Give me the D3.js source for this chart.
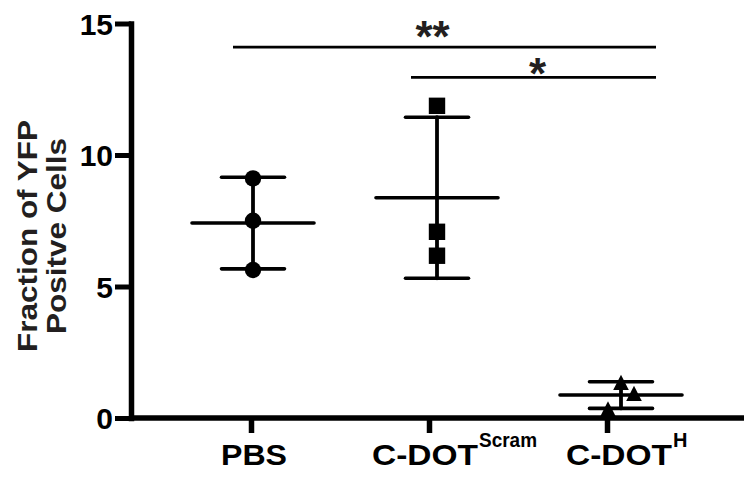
<!DOCTYPE html>
<html><head><meta charset="utf-8">
<script src="https://cdn.jsdelivr.net/npm/d3@7"></script>
<style>body{margin:0;background:#fff}svg{display:block}</style>
</head><body>
<svg id="c" width="749" height="479"></svg>
<script>
// ---------- data ----------
const categories = ["PBS", "C-DOT^Scram", "C-DOT^H"];
const labelMain = ["PBS", "C-DOT", "C-DOT"];
const labelSup = ["", "Scram", "H"];
const pbsValues = [9.11, 7.50, 5.63];
const scramValues = [11.87, 7.08, 6.17];
const hValues = [1.35, 0.93, 0.34];
const markerShapes = ["circle", "square", "triangle"];
const yTicks = [0, 5, 10, 15];
const yTitle = ["Fraction of YFP", "Positve Cells"];
const compFrom = ["PBS", "C-DOT^Scram"];
const compTo = ["C-DOT^H", "C-DOT^H"];
const compLabel = ["**", "*"];
const compLevel = [14.1, 12.95];

// ---------- layout ----------
const FONT = "'Liberation Sans', Arial, Helvetica, sans-serif";
const svg = d3.select("#c");
const y = d3.scaleLinear().domain([0, 15]).range([418, 23.5]);
const xTick = d3.scalePoint().domain(categories).range([251, 607]);
const xData = d3.scalePoint().domain(categories).range([253, 621]);
const labelShift = [1, -12, -2];
const axisX = 131, axisRight = 744;
const groups = [pbsValues, scramValues, hValues];

// y axis
const gy = svg.append("g").attr("transform", `translate(${axisX},0)`)
  .call(d3.axisLeft(y).tickValues(yTicks).tickSize(16).tickPadding(2).tickSizeOuter(0));
gy.select(".domain").attr("stroke-width", 5.5).attr("stroke-linecap", "square");
gy.selectAll(".tick line").attr("stroke-width", 5);
gy.selectAll(".tick text").attr("font-family", FONT).attr("font-weight", "bold")
  .attr("font-size", 30).attr("fill", "#000").attr("dy", "0.36em");

// x axis
svg.append("line").attr("x1", axisX - 2).attr("x2", axisRight)
  .attr("y1", y(0)).attr("y2", y(0)).attr("stroke", "#000").attr("stroke-width", 5.5);
const gx = svg.append("g").attr("transform", `translate(0,${y(0)})`)
  .call(d3.axisBottom(xTick).tickSize(15).tickFormat("").tickSizeOuter(0));
gx.select(".domain").remove();
gx.selectAll(".tick line").attr("stroke-width", 5.5);

// category labels
const mainLen = { "PBS": 66, "C-DOT": 106 };
categories.forEach((c, i) => {
  const cx = xData(c) + labelShift[i];
  svg.append("text").attr("x", cx).attr("y", 465)
    .attr("text-anchor", "middle").attr("font-family", FONT).attr("font-weight", "bold")
    .attr("font-size", 30).attr("textLength", mainLen[labelMain[i]])
    .attr("lengthAdjust", "spacingAndGlyphs").text(labelMain[i]);
  if (labelSup[i]) {
    const w = mainLen[labelMain[i]];
    const s = svg.append("text").attr("x", cx + w / 2 + 1).attr("y", 447)
      .attr("font-family", FONT).attr("font-weight", "bold").attr("font-size", 20)
      .text(labelSup[i]);
    if (labelSup[i].length > 1) s.attr("textLength", 58).attr("lengthAdjust", "spacingAndGlyphs");
  }
});

// y title
const titleLen = [232, 196];
const titleBase = [36.5, 66];
yTitle.forEach((s, i) => {
  svg.append("text").attr("transform", `translate(${titleBase[i]},236) rotate(-90)`)
    .attr("text-anchor", "middle").attr("font-family", FONT).attr("font-weight", "bold")
    .attr("font-size", 27).attr("fill", "#231f20")
    .attr("textLength", titleLen[i]).attr("lengthAdjust", "spacingAndGlyphs").text(s);
});

// error bars (mean ± SD)
const meanHalf = 61, capHalf = 31.5;
groups.forEach((vals, gi) => {
  const cx = xData(categories[gi]);
  const m = d3.mean(vals), sd = d3.deviation(vals);
  const g = svg.append("g").attr("stroke", "#000").attr("stroke-linecap", "round");
  g.append("line").attr("x1", cx).attr("x2", cx).attr("y1", y(m + sd)).attr("y2", y(m - sd)).attr("stroke-width", 3.8);
  g.append("line").attr("x1", cx - meanHalf).attr("x2", cx + meanHalf).attr("y1", y(m)).attr("y2", y(m)).attr("stroke-width", 3.6);
  [m + sd, m - sd].forEach(v => {
    g.append("line").attr("x1", cx - capHalf).attr("x2", cx + capHalf).attr("y1", y(v)).attr("y2", y(v)).attr("stroke-width", 3.6);
  });
});

// points with collision jitter
const markerSize = 16, jitterStep = 13;
groups.forEach((vals, gi) => {
  const cx = xData(categories[gi]);
  const order = d3.range(vals.length).sort((a, b) => vals[b] - vals[a]);
  let k = 0, prevY = null;
  order.forEach(idx => {
    const py = y(vals[idx]);
    if (prevY !== null && Math.abs(py - prevY) < markerSize) k++; else k = 0;
    prevY = py;
    const off = k === 0 ? 0 : (k % 2 === 1 ? 1 : -1) * Math.ceil(k / 2) * jitterStep;
    const px = cx + off;
    const shape = markerShapes[gi];
    if (shape === "circle") {
      svg.append("circle").attr("cx", px).attr("cy", py).attr("r", 8.2).attr("fill", "#000");
    } else if (shape === "square") {
      svg.append("rect").attr("x", px - 8.2).attr("y", py - 8.2).attr("width", 16.4).attr("height", 16.4).attr("fill", "#000");
    } else {
      svg.append("path").attr("transform", `translate(${px},${py})`)
        .attr("d", "M0,-7.8L7.8,7.5L-7.8,7.5Z").attr("fill", "#000");
    }
  });
});

// significance bars
const starLift = [13, 6];
compFrom.forEach((f, i) => {
  const ly = y(compLevel[i]);
  const x1 = xTick(f) - 18, x2 = xData(compTo[i]) + 35;
  svg.append("line").attr("x1", x1).attr("x2", x2).attr("y1", ly).attr("y2", ly)
    .attr("stroke", "#000").attr("stroke-width", 2.6);
  svg.append("text").attr("x", (x1 + x2) / 2 - (i === 0 ? 12 : -4)).attr("y", ly - starLift[i] + 18)
    .attr("text-anchor", "middle").attr("font-family", FONT).attr("font-weight", "bold")
    .attr("font-size", 44).attr("fill", "#231f20").text(compLabel[i]);
});
</script>
</body></html>
